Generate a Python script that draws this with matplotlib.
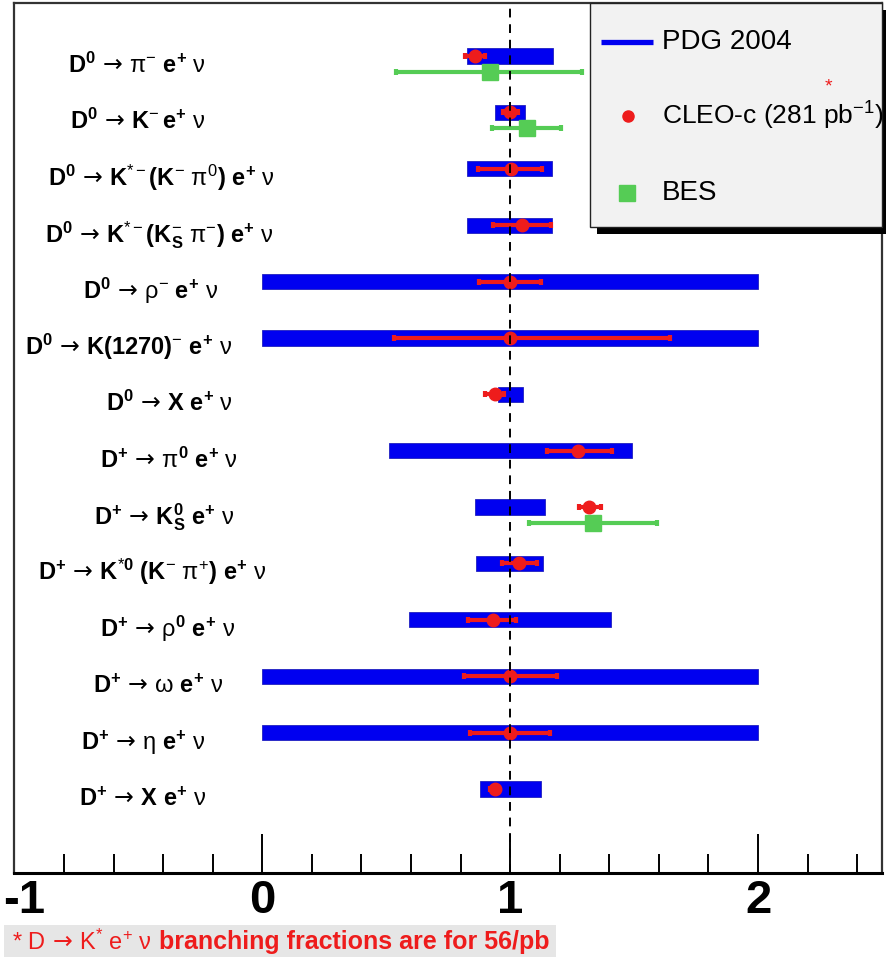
import matplotlib
matplotlib.use("Agg")
import matplotlib.pyplot as plt
from matplotlib.ticker import MultipleLocator, FixedLocator
from matplotlib.patches import Rectangle
from matplotlib.lines import Line2D

# ---------------- data ----------------
A = r"\,\mathsf{\rightarrow}\,"
labels = [
    r"$\mathbf{D}^{\mathbf{0}}" + A + r"\pi^{-}\ \mathbf{e}^{\mathbf{+}}\ \nu$",
    r"$\mathbf{D}^{\mathbf{0}}" + A + r"\mathbf{K}^{-}\,\mathbf{e}^{\mathbf{+}}\ \nu$",
    r"$\mathbf{D}^{\mathbf{0}}" + A + r"\mathbf{K}^{*-}\mathbf{(K}^{-}\ \pi^{0}\mathbf{)}\ \mathbf{e}^{\mathbf{+}}\ \nu$",
    r"$\mathbf{D}^{\mathbf{0}}" + A + r"\mathbf{K}^{*-}\mathbf{(K}^{-}_{\mathbf{S}}\ \pi^{-}\mathbf{)}\ \mathbf{e}^{\mathbf{+}}\ \nu$",
    r"$\mathbf{D}^{\mathbf{0}}" + A + r"\rho^{-}\ \mathbf{e}^{\mathbf{+}}\ \nu$",
    r"$\mathbf{D}^{\mathbf{0}}" + A + r"\mathbf{K(1270)}^{-}\ \mathbf{e}^{\mathbf{+}}\ \nu$",
    r"$\mathbf{D}^{\mathbf{0}}" + A + r"\mathbf{X}\ \mathbf{e}^{\mathbf{+}}\ \nu$",
    r"$\mathbf{D}^{\mathbf{+}}" + A + r"\pi^{\mathbf{0}}\ \mathbf{e}^{\mathbf{+}}\ \nu$",
    r"$\mathbf{D}^{\mathbf{+}}" + A + r"\mathbf{K}^{\mathbf{0}}_{\mathbf{S}}\ \mathbf{e}^{\mathbf{+}}\ \nu$",
    r"$\mathbf{D}^{\mathbf{+}}" + A + r"\mathbf{K}^{*\mathbf{0}}\ \mathbf{(K}^{-}\ \pi^{+}\mathbf{)}\ \mathbf{e}^{\mathbf{+}}\ \nu$",
    r"$\mathbf{D}^{\mathbf{+}}" + A + r"\rho^{\mathbf{0}}\ \mathbf{e}^{\mathbf{+}}\ \nu$",
    r"$\mathbf{D}^{\mathbf{+}}" + A + r"\omega\ \mathbf{e}^{\mathbf{+}}\ \nu$",
    r"$\mathbf{D}^{\mathbf{+}}" + A + r"\eta\ \mathbf{e}^{\mathbf{+}}\ \nu$",
    r"$\mathbf{D}^{\mathbf{+}}" + A + r"\mathbf{X}\ \mathbf{e}^{\mathbf{+}}\ \nu$",
]
rows = list(range(1, 15))

pdg_lo = [0.824, 0.938, 0.827, 0.827, 0.0, 0.0, 0.95, 0.51, 0.856, 0.86, 0.593, 0.0, 0.0, 0.877]
pdg_hi = [1.174, 1.061, 1.170, 1.170, 2.0, 2.0, 1.05, 1.491, 1.141, 1.133, 1.408, 2.0, 2.0, 1.123]

cleo_val = [0.858, 1.0, 1.003, 1.047, 1.0, 1.0, 0.94, 1.275, 1.319, 1.034, 0.93, 1.0, 1.0, 0.938]
cleo_lo = [0.818, 0.97, 0.871, 0.93, 0.874, 0.533, 0.898, 1.148, 1.279, 0.965, 0.831, 0.814, 0.836, 0.92]
cleo_hi = [0.90, 1.03, 1.13, 1.164, 1.123, 1.645, 0.974, 1.411, 1.366, 1.11, 1.023, 1.19, 1.161, 0.956]

bes_rows = [1, 2, 9]
bes_val = [0.917, 1.067, 1.335]
bes_lo = [0.54, 0.927, 1.074]
bes_hi = [1.288, 1.204, 1.592]

xticks = [-1, 0, 1, 2]
xtick_labels = ["-1", "0", "1", "2"]

# ---------------- style / layout ----------------
W, H = 887, 957
plt.rcParams["mathtext.fontset"] = "custom"
plt.rcParams["mathtext.rm"] = "Liberation Sans"
plt.rcParams["mathtext.it"] = "Liberation Sans:italic"
plt.rcParams["mathtext.bf"] = "Liberation Sans:bold"
plt.rcParams["mathtext.sf"] = "DejaVu Sans"
plt.rcParams["mathtext.default"] = "rm"
plt.rcParams["font.family"] = ["Liberation Sans", "DejaVu Sans"]

BLUE = "#0000f0"
RED = "#ee1c1c"
GREEN = "#55cc55"

fig = plt.figure(figsize=(W / 100, H / 100), dpi=100)
ax_l, ax_r, ax_t, ax_b = 14.5, 882, 3, 873
ax = fig.add_axes([ax_l / W, 1 - ax_b / H, (ax_r - ax_l) / W, (ax_b - ax_t) / H])

def fx(px):
    return px / W

def fy(py):
    return 1 - py / H

# PDG bars
ax.barh(rows, [h - l for l, h in zip(pdg_lo, pdg_hi)], left=pdg_lo, height=0.27,
        color=BLUE, edgecolor="#2020c0", linewidth=0.6, zorder=2)

# CLEO-c
ax.errorbar(cleo_val, rows,
            xerr=[[v - l for v, l in zip(cleo_val, cleo_lo)],
                  [h - v for v, h in zip(cleo_val, cleo_hi)]],
            fmt="o", color=RED, ms=9, elinewidth=3, capsize=2.5, capthick=3, zorder=4)

# BES
bes_y = [r + 0.28 for r in bes_rows]
ax.errorbar(bes_val, bes_y,
            xerr=[[v - l for v, l in zip(bes_val, bes_lo)],
                  [h - v for v, h in zip(bes_val, bes_hi)]],
            fmt="s", color=GREEN, ms=11, elinewidth=3, capsize=2, capthick=3, zorder=3)

# dashed reference line
ax.axvline(1.0, color="black", lw=1.4, ls=(0, (4.5, 3.5)), zorder=6)

ax.set_xlim(-1, 2.5)
ax.set_ylim(15.49, 0.06)

ax.xaxis.set_major_locator(FixedLocator(xticks))
ax.xaxis.set_minor_locator(MultipleLocator(0.2))
ax.tick_params(axis="x", which="major", direction="in", length=28, width=1.4,
               labelbottom=False)
ax.tick_params(axis="x", which="minor", direction="in", length=14, width=1.4)
ax.set_yticks([])
for s in ["left", "top", "right"]:
    ax.spines[s].set_color("#333333")
    ax.spines[s].set_linewidth(1.6)
ax.spines["bottom"].set_linewidth(2.2)

# tick labels (first one nudged so it stays inside the canvas, as in the reference)
for v, lab in zip(xticks, xtick_labels):
    dx = 7 if v == xticks[0] else 0
    ax.annotate(lab, xy=(v, 0), xycoords=ax.get_xaxis_transform(),
                xytext=(dx, -4), textcoords="offset points",
                ha="center", va="top", fontsize=34, fontweight="bold",
                annotation_clip=False)

# row labels
label_left_px = [68, 70, 48, 45, 83, 25, 106, 100, 94, 38, 100, 93, 81, 79]
for r, lab, lx in zip(rows, labels, label_left_px):
    ax.annotate(lab, xy=(fx(lx), r + 0.30), xycoords=("figure fraction", "data"),
                ha="left", va="baseline", fontsize=17, zorder=7)

# legend (manual)
fig.add_artist(Rectangle((fx(597), fy(234)), fx(882 - 590), (227 - 3) / H,
                         transform=fig.transFigure, facecolor="black", edgecolor="none", zorder=8))
fig.add_artist(Rectangle((fx(590), fy(227)), fx(882 - 590), (227 - 3) / H,
                         transform=fig.transFigure, facecolor="#f2f2f2", edgecolor="#222222",
                         lw=1.0, zorder=9))
fig.add_artist(Line2D([fx(601), fx(653)], [fy(42), fy(42)], transform=fig.transFigure,
                      color=BLUE, lw=3.8, solid_capstyle="butt", zorder=10))
fig.add_artist(Line2D([fx(628)], [fy(116)], transform=fig.transFigure, marker="o",
                      color=RED, ms=8, lw=0, zorder=10))
fig.add_artist(Line2D([fx(627)], [fy(193)], transform=fig.transFigure, marker="s",
                      color=GREEN, ms=11, lw=0, zorder=10))
fig.text(fx(662), fy(42), "PDG 2004", fontsize=20, va="center", ha="left", zorder=11)
fig.text(fx(662), fy(116), r"CLEO-c (281 pb$^{-1}$)", fontsize=19, va="center", ha="left", zorder=11)
fig.text(fx(828), fy(87), "*", fontsize=14, color=RED, va="center", ha="center", zorder=11)
fig.text(fx(662), fy(193), "BES", fontsize=20, va="center", ha="left", zorder=11)

# footnote
fig.add_artist(Rectangle((fx(4), 0), fx(556 - 4), (957 - 925) / H, transform=fig.transFigure,
                         facecolor="#e6e6e6", edgecolor="none", zorder=1))
t1 = fig.text(fx(12), fy(942), r"* D$\,\mathsf{\rightarrow}\,$K$^{*}$ e$^{+}$ $\nu$", fontsize=17,
              color=RED, va="center", ha="left", zorder=2)
fig.canvas.draw()
bb = t1.get_window_extent(renderer=fig.canvas.get_renderer())
fig.text(bb.x1 / W + fx(7), fy(942), "branching fractions are for 56/pb", fontsize=18,
         fontweight="bold", color=RED, va="center", ha="left", zorder=2)

fig.savefig("out.png", dpi=100)
